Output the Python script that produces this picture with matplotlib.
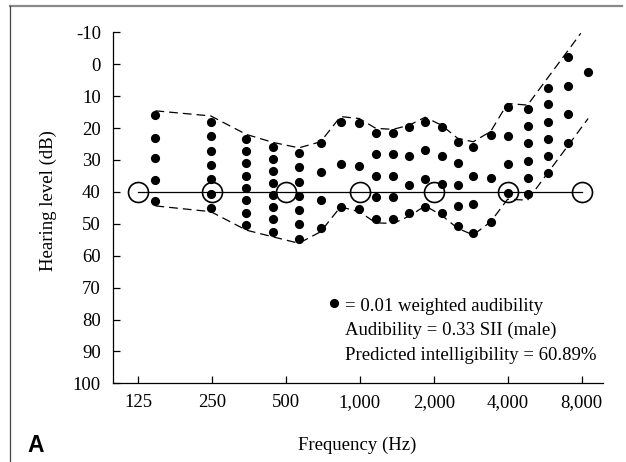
import numpy as np
import matplotlib.pyplot as plt
from matplotlib.lines import Line2D

plt.rcParams['font.family'] = ['Liberation Serif', 'DejaVu Serif']
plt.rcParams['axes.unicode_minus'] = False

# colonne di punti (frequenza in Hz, livelli in dB HL)
dot_freqs = [147, 247, 345, 443, 564, 692, 834, 993, 1162, 1366, 1588,
             1845, 2152, 2500, 2894, 3408, 3998, 4820, 5815, 7012, 8510]
dot_levels = [
    [16, 23, 29.5, 36.3, 43],
    [18, 22.5, 27.1, 31.6, 36, 40.6, 45.1],
    [23.4, 27.2, 31, 35, 38.8, 42.7, 46.7, 50.5],
    [25.8, 29.6, 33.4, 37.3, 41, 44.8, 48.5, 52.5],
    [27.7, 32.3, 36.8, 41.3, 45.6, 50.2, 54.8],
    [24.6, 33.7, 42.5, 51.4],
    [18, 31.4, 44.8],
    [18.3, 31.9, 45.4],
    [21.5, 28.2, 35, 41.7, 48.5],
    [21.5, 28.2, 35, 41.7, 48.5],
    [19.8, 28.7, 37.8, 46.7],
    [18, 26.9, 35.9, 44.8],
    [19.6, 28.6, 37.6, 46.7],
    [24.3, 30.8, 37.8, 44.4, 50.8],
    [25.8, 34.9, 43.9, 52.9],
    [22.2, 35.7, 49.3],
    [13.5, 22.5, 31.4, 40.4],
    [14.1, 19.4, 24.8, 30.2, 35.5, 40.8],
    [7.3, 12.6, 18, 23.3, 28.7, 34.2],
    [-2.3, 6.8, 15.7, 24.8],
    [2.4],
]

# inviluppo tratteggiato
upper_f = [147, 247, 345, 443, 564, 692, 834, 993, 1162, 1366, 1588,
           1845, 2152, 2500, 2894, 3408, 3998, 4820, 7940]
upper_db = [14.6, 16.2, 22.0, 24.5, 26.2, 24.3, 16.4, 17.0, 20.1, 20.4, 19.1,
            16.6, 19.1, 23.2, 24.3, 21.1, 12.3, 12.8, -9.7]
lower_f = [147, 247, 345, 443, 564, 692, 834, 993, 1162, 1366, 1588,
           1845, 2152, 2500, 2894, 3408, 3998, 4820, 8510]
lower_db = [44.4, 46.2, 52.0, 54.1, 56.1, 52.5, 44.7, 46.2, 49.7, 49.9, 47.6,
            44.4, 47.3, 51.4, 53.5, 49.4, 42.3, 42.6, 17.0]

# soglia uditiva
octave_freqs = [125, 250, 500, 1000, 2000, 4000, 8000]
octave_labels = ['125', '250', '500', '1,000', '2,000', '4,000', '8,000']
threshold_db = [40, 40, 40, 40, 40, 40, 40]
y_ticks = list(range(-10, 101, 10))

fs = 13.5

fig = plt.figure(figsize=(6.26, 4.62), dpi=100)
ax = fig.add_axes([0.181, 0.1703, 0.7817, 0.7597])

# punti
for f, levels in zip(dot_freqs, dot_levels):
    ax.plot([f] * len(levels), levels, 'o', color='black', ms=6.6, mec='none', zorder=3)

ax.plot(upper_f, upper_db, color='black', lw=0.9, dashes=(7, 4), zorder=2)
ax.plot(lower_f, lower_db, color='black', lw=0.9, dashes=(7, 4), zorder=2)

ax.plot(octave_freqs, threshold_db, color='black', lw=0.9, zorder=2)
ax.plot(octave_freqs, threshold_db, 'o', ms=14.4, mfc='none', mec='black', mew=1.2, zorder=4)

ax.set_xscale('log')
ax.set_xlim(99, 9750)
ax.set_ylim(100, -10)
ax.set_xticks(octave_freqs)
ax.set_xticklabels(octave_labels)
ax.xaxis.set_minor_locator(plt.NullLocator())
ax.set_yticks(y_ticks)
ax.tick_params(direction='in', length=5, width=0.9, labelsize=fs, color='black')
ax.tick_params(axis='x', pad=8)
ax.tick_params(axis='y', pad=9)
for s in ['top', 'right']:
    ax.spines[s].set_visible(False)
for s in ['left', 'bottom']:
    ax.spines[s].set_linewidth(0.9)

ax.set_ylabel('Hearing level (dB)', fontsize=fs)
ax.yaxis.set_label_coords(-0.115, 0.52)
fig.text(0.57, 0.037, 'Frequency (Hz)', fontsize=fs, ha='center', va='center')
fig.text(0.044, 0.036, 'A', fontsize=16.5, fontweight='bold', family='Liberation Sans',
         ha='left', va='center')

# legenda
ax.plot([0.4516], [0.2296], 'o', color='black', ms=6.6, mec='none',
        transform=ax.transAxes, clip_on=False)
ax.text(0.4734, 0.218, '= 0.01 weighted audibility', transform=ax.transAxes,
        fontsize=fs, va='center', ha='left')
ax.text(0.4734, 0.152, 'Audibility = 0.33 SII (male)', transform=ax.transAxes,
        fontsize=fs, va='center', ha='left')
ax.text(0.4734, 0.0806, 'Predicted intelligibility = 60.89%', transform=ax.transAxes,
        fontsize=fs, va='center', ha='left')

# cornice del pannello
fig.add_artist(Line2D([0.016, 0.994], [0.987, 0.987], color='#8a8a8a', lw=1.6,
                      transform=fig.transFigure))
fig.add_artist(Line2D([0.016, 0.016], [0.0, 0.987], color='#444444', lw=0.9,
                      transform=fig.transFigure))

plt.savefig('out.png', dpi=100)
